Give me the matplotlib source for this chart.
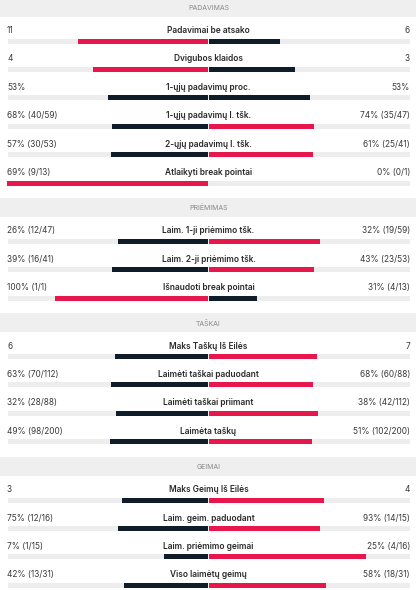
import matplotlib.pyplot as plt

plt.rcParams['font.family'] = ['Inter', 'DejaVu Sans']

# section titles and how many rows each has
sections = ['PADAVIMAS', 'PRIĖMIMAS', 'TAŠKAI', 'GEIMAI']
section_rows = [6, 3, 4, 4]

labels = [
    'Padavimai be atsako', 'Dvigubos klaidos', '1-ųjų padavimų proc.',
    '1-ųjų padavimų l. tšk.', '2-ųjų padavimų l. tšk.', 'Atlaikyti break pointai',
    'Laim. 1-ji priėmimo tšk.', 'Laim. 2-ji priėmimo tšk.', 'Išnaudoti break pointai',
    'Maks Taškų Iš Eilės', 'Laimėti taškai paduodant', 'Laimėti taškai priimant', 'Laimėta taškų',
    'Maks Geimų Iš Eilės', 'Laim. geim. paduodant', 'Laim. priėmimo geimai', 'Viso laimėtų geimų',
]
left_text = ['11', '4', '53%', '68% (40/59)', '57% (30/53)', '69% (9/13)',
             '26% (12/47)', '39% (16/41)', '100% (1/1)',
             '6', '63% (70/112)', '32% (28/88)', '49% (98/200)',
             '3', '75% (12/16)', '7% (1/15)', '42% (13/31)']
right_text = ['6', '3', '53%', '74% (35/47)', '61% (25/41)', '0% (0/1)',
              '32% (19/59)', '43% (23/53)', '31% (4/13)',
              '7', '68% (60/88)', '38% (42/112)', '51% (102/200)',
              '4', '93% (14/15)', '25% (4/16)', '58% (18/31)']
left_vals = [11, 4, 53, 68, 57, 69, 26, 39, 100, 6, 63, 32, 49, 3, 75, 7, 42]
right_vals = [6, 3, 53, 74, 61, 0, 32, 43, 31, 7, 68, 38, 51, 4, 93, 25, 58]

RED = '#e8174b'
DARK = '#0e1d29'
TRACK = '#ededed'
BAND = '#efefef'

W, H = 416, 590
fig = plt.figure(figsize=(W / 100, H / 100), dpi=100)
ax = fig.add_axes([0, 0, 1, 1])
ax.set_xlim(0, W)
ax.set_ylim(H, 0)
ax.axis('off')

cx = 208.5
half = 201
bar_h = 5
step = 28.4

hy = 7
k = 0
for title, n in zip(sections, section_rows):
    ax.add_patch(plt.Rectangle((0, hy - 9.5), W, 19, color=BAND, lw=0))
    ax.text(cx, hy + 0.5, title, ha='center', va='center', fontsize=5, color='#888888')
    for i in range(n):
        ly = hy + 23.5 + i * step
        by = ly + 10.5
        a, b = left_vals[k], right_vals[k]
        tot = a + b
        la = half * a / tot if tot else 0
        lb = half * b / tot if tot else 0
        ca = RED if a > b else DARK
        cb = RED if b > a else DARK
        ax.barh(by, 2 * half, left=cx - half, height=bar_h, color=TRACK, lw=0)
        ax.barh(by, -la, left=cx - 0.5, height=bar_h, color=ca, lw=0)
        ax.barh(by, lb, left=cx + 0.5, height=bar_h, color=cb, lw=0)
        ax.text(cx, ly, labels[k], ha='center', va='center', fontsize=6,
                fontweight='semibold', color='#2a2a2a')
        ax.text(7, ly, left_text[k], ha='left', va='center', fontsize=6, color='#3a3a3a')
        ax.text(410, ly, right_text[k], ha='right', va='center', fontsize=6, color='#3a3a3a')
        k += 1
    hy = hy + 30 + n * step

fig.savefig('out.png', dpi=100)
